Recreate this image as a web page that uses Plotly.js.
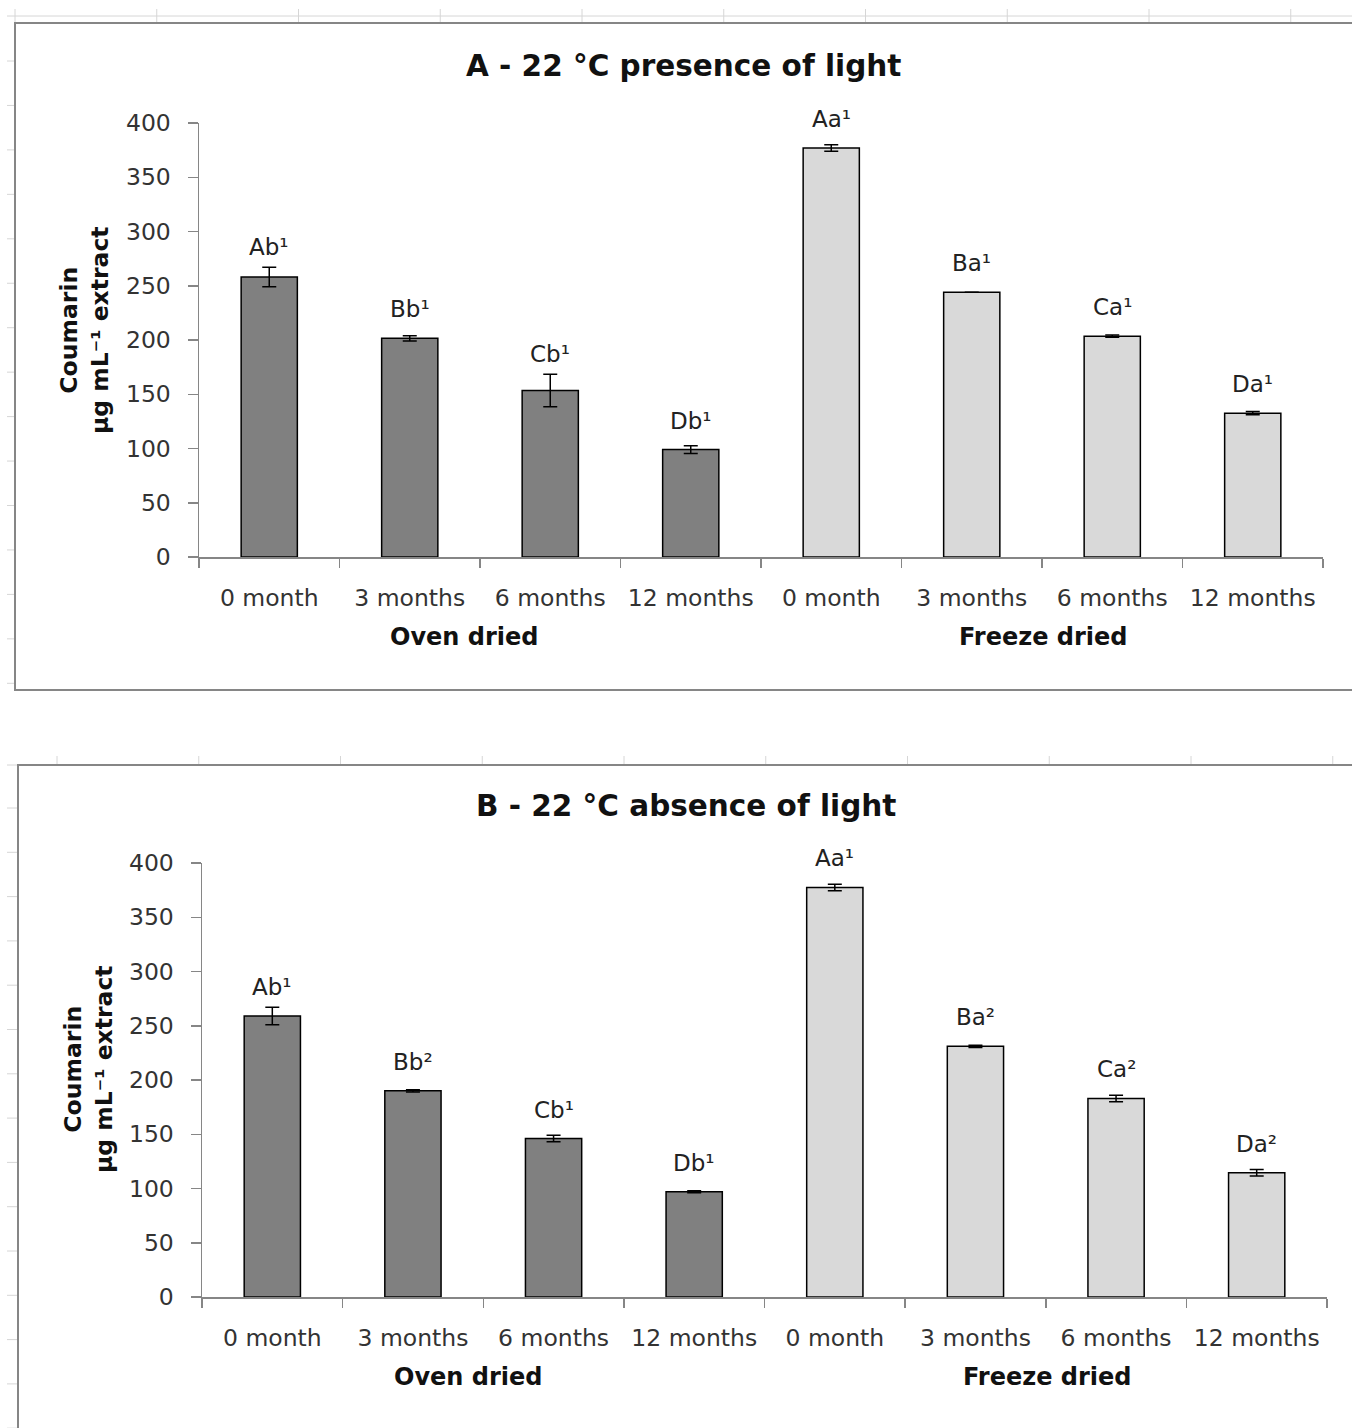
<!DOCTYPE html>
<html>
<head>
<meta charset="utf-8">
<script src="https://cdn.plot.ly/plotly-3.0.1.min.js"></script>
<style>html,body{margin:0;padding:0;background:#fff}#chart{width:1352px;height:1428px}</style>
</head>
<body>
<div id="chart"></div>
<script>
// ---- data ----
const categories = ["0 month", "3 months", "6 months", "12 months"];
const groups = ["Oven dried", "Freeze dried"];
const panelTitles = ["A - 22 °C presence of light", "B - 22 °C absence of light"];
const yTitle = "Coumarin<br>µg mL⁻¹ extract";

const aOvenValues   = [258, 201.5, 153.5, 99];
const aOvenErrors   = [9, 2.5, 15, 3.5];
const aFreezeValues = [377, 244, 203.5, 132.5];
const aFreezeErrors = [3, 0, 1, 1.5];
const aOvenLabels   = ["Ab¹", "Bb¹", "Cb¹", "Db¹"];
const aFreezeLabels = ["Aa¹", "Ba¹", "Ca¹", "Da¹"];

const bOvenValues   = [259, 190, 146, 97];
const bOvenErrors   = [8, 1, 3, 1];
const bFreezeValues = [377.5, 231, 183, 114.5];
const bFreezeErrors = [3, 1, 3, 3];
const bOvenLabels   = ["Ab¹", "Bb²", "Cb¹", "Db¹"];
const bFreezeLabels = ["Aa¹", "Ba²", "Ca²", "Da²"];

const yTicks = [0, 50, 100, 150, 200, 250, 300, 350, 400];

// ---- layout helpers ----
const W = 1352, H = 1428;
const px = x => x / W;
const py = y => 1 - y / H;
const FONT = "DejaVu Sans";
const AXC = "#868686";
const ovenIdx = [0, 1, 2, 3];
const freezeIdx = [4, 5, 6, 7];
const allLabels = categories.concat(categories);

function barTrace(xs, ys, errs, color, xa, ya) {
  return {
    type: "bar", x: xs, y: ys, width: 0.4, xaxis: xa, yaxis: ya,
    marker: {color: color, line: {color: "#000", width: 1.5}},
    error_y: {type: "data", array: errs, visible: true, color: "#000", thickness: 1.5, width: 7},
    hoverinfo: "none", showlegend: false
  };
}

const data = [
  barTrace(ovenIdx, aOvenValues, aOvenErrors, "#808080", "x", "y"),
  barTrace(freezeIdx, aFreezeValues, aFreezeErrors, "#d9d9d9", "x", "y"),
  barTrace(ovenIdx, bOvenValues, bOvenErrors, "#808080", "x2", "y2"),
  barTrace(freezeIdx, bFreezeValues, bFreezeErrors, "#d9d9d9", "x2", "y2")
];

function xAxis(d0, d1, anchor) {
  return {
    domain: [px(d0), px(d1)], anchor: anchor, range: [-0.5, 7.5],
    tickmode: "array", tickvals: ovenIdx.concat(freezeIdx), ticktext: allLabels,
    ticks: "", showgrid: false, zeroline: false,
    showline: true, linecolor: AXC, linewidth: 1.5,
    minor: {ticks: "outside", ticklen: 9, tickwidth: 1.5, tickcolor: AXC, tick0: -0.5, dtick: 1, showgrid: false},
    tickfont: {family: FONT, size: 23.5, color: "#333"},
    ticklabelstandoff: 19, fixedrange: true
  };
}
function yAxis(bottom, top, anchor) {
  return {
    domain: [py(bottom), py(top)], anchor: anchor, range: [0, 400],
    tickmode: "array", tickvals: yTicks,
    ticks: "outside", ticklen: 10, tickwidth: 1.5, tickcolor: AXC,
    showgrid: false, zeroline: false,
    showline: true, linecolor: AXC, linewidth: 1.5,
    tickfont: {family: FONT, size: 23.5, color: "#333"},
    ticklabelstandoff: 12, fixedrange: true
  };
}

const annotations = [];
const pxPerUnit = 434 / 400;
function addLabels(xs, vals, errs, labels, xref, yref) {
  xs.forEach((x, i) => {
    annotations.push({
      x: x, y: vals[i], xref: xref, yref: yref, text: labels[i], showarrow: false,
      yanchor: "middle", xanchor: "center",
      yshift: Math.max(29, errs[i] * pxPerUnit + 20),
      font: {family: FONT, size: 23, color: "#222"}
    });
  });
}
addLabels(ovenIdx, aOvenValues, aOvenErrors, aOvenLabels, "x", "y");
addLabels(freezeIdx, aFreezeValues, aFreezeErrors, aFreezeLabels, "x", "y");
addLabels(ovenIdx, bOvenValues, bOvenErrors, bOvenLabels, "x2", "y2");
addLabels(freezeIdx, bFreezeValues, bFreezeErrors, bFreezeLabels, "x2", "y2");

function paperText(x, y, text, size, angle) {
  annotations.push({
    x: px(x), y: py(y), xref: "paper", yref: "paper", text: text, showarrow: false,
    xanchor: "center", yanchor: "middle", textangle: angle || 0,
    font: {family: FONT, size: size, color: "#111", weight: "bold"}
  });
}
// panel titles
paperText(683, 66, panelTitles[0], 29.5);
paperText(686, 806, panelTitles[1], 29.5);
// group labels
paperText(464, 637, groups[0], 24);
paperText(1043, 637, groups[1], 24);
paperText(468, 1377, groups[0], 24);
paperText(1047, 1377, groups[1], 24);
// y titles
paperText(84, 330, yTitle, 23.5, -90);
paperText(88, 1069, yTitle, 23.5, -90);

// ---- decoration shapes (chart borders and faint sheet grid) ----
const shapes = [];
const FAINT = "#d6d6d6";
function line(x0, y0, x1, y1, color, w) {
  shapes.push({type: "line", xref: "paper", yref: "paper",
    x0: px(x0), y0: py(y0), x1: px(x1), y1: py(y1), line: {color: color, width: w}});
}
line(7, 16, 1360, 16, FAINT, 1);
for (let k = 0; k < 10; k++) line(15 + k * 141.75, 9, 15 + k * 141.75, 23, FAINT, 1);
for (let y = 61; y < 690; y += 44.45) line(7, y, 15, y, FAINT, 1);
for (let k = 0; k < 10; k++) line(57 + k * 141.75, 756, 57 + k * 141.75, 765, FAINT, 1);
for (let y = 808; y < 1430; y += 44.3) line(7, y, 18, y, FAINT, 1);
line(7, 765, 18, 765, FAINT, 1);
shapes.push({type: "rect", xref: "paper", yref: "paper",
  x0: px(15), y0: py(23), x1: px(1380), y1: py(690), line: {color: AXC, width: 2}});
shapes.push({type: "rect", xref: "paper", yref: "paper",
  x0: px(18), y0: py(765), x1: px(1380), y1: py(1450), line: {color: AXC, width: 2}});

const layout = {
  width: W, height: H, margin: {l: 0, r: 0, t: 0, b: 0},
  paper_bgcolor: "#fff", plot_bgcolor: "rgba(0,0,0,0)",
  barmode: "overlay", showlegend: false,
  xaxis: xAxis(199, 1323, "y"),
  yaxis: yAxis(557, 123, "x"),
  xaxis2: xAxis(202, 1327, "y2"),
  yaxis2: yAxis(1297, 863, "x2"),
  annotations: annotations, shapes: shapes
};

Plotly.newPlot("chart", data, layout, {staticPlot: true, displayModeBar: false});
</script>
</body>
</html>
